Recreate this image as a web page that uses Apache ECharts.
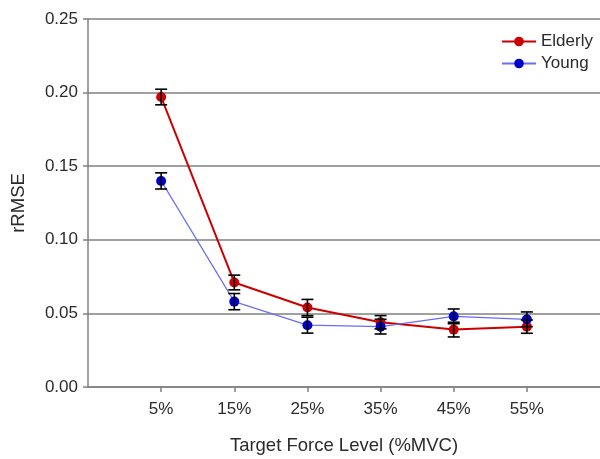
<!DOCTYPE html>
<html>
<head>
<meta charset="utf-8">
<script src="https://cdn.jsdelivr.net/npm/echarts@6/dist/echarts.min.js"></script>
<style>html,body{margin:0;padding:0;background:#fff;}#c{width:600px;height:459px;}</style>
</head>
<body>
<div id="c"></div>
<script>
const levels = ['5%', '15%', '25%', '35%', '45%', '55%'];
const elderly = [0.197, 0.071, 0.054, 0.044, 0.039, 0.041];
const elderlyErr = [0.0053, 0.005, 0.0055, 0.0045, 0.005, 0.0045];
const young = [0.140, 0.058, 0.042, 0.041, 0.048, 0.046];
const youngErr = [0.0055, 0.0055, 0.0054, 0.005, 0.005, 0.005];
const yTicks = { min: 0, max: 0.25, interval: 0.05 };

const xCats = [''].concat(levels, [' ']);
const font = 'Liberation Sans, Arial, sans-serif';
const txt = '#2b2b2b';

function pts(vals) { return vals.map((v, i) => [levels[i], v]); }
function errs(vals, e) { return vals.map((v, i) => [levels[i], v - e[i], v + e[i]]); }

function errRender(params, api) {
  const x = api.value(0);
  const lo = api.coord([x, api.value(1)]);
  const hi = api.coord([x, api.value(2)]);
  const h = 6;
  const st = { stroke: '#000', lineWidth: 1.6 };
  return {
    type: 'group',
    children: [
      { type: 'line', shape: { x1: lo[0], y1: lo[1], x2: hi[0], y2: hi[1] }, style: st },
      { type: 'line', shape: { x1: lo[0] - h, y1: lo[1], x2: lo[0] + h, y2: lo[1] }, style: st },
      { type: 'line', shape: { x1: hi[0] - h, y1: hi[1], x2: hi[0] + h, y2: hi[1] }, style: st }
    ]
  };
}

const chart = echarts.init(document.getElementById('c'));
chart.setOption({
  animation: false,
  backgroundColor: '#fff',
  textStyle: { fontFamily: font },
  grid: { left: 88, right: 0, top: 19, bottom: 72, containLabel: false, outerBoundsMode: 'none' },
  legend: {
    orient: 'vertical', left: 496, top: 28, itemWidth: 34, itemHeight: 12, itemGap: 5,
    textStyle: { fontFamily: font, fontSize: 17, color: txt },
    data: ['Elderly', 'Young']
  },
  xAxis: {
    type: 'category', data: xCats, boundaryGap: false,
    name: 'Target Force Level (%MVC)', nameLocation: 'middle', nameGap: 49,
    nameTextStyle: { fontFamily: font, fontSize: 18.5, color: txt },
    axisLine: { lineStyle: { color: '#808080', width: 1.5 } },
    axisTick: { length: 5, interval: (i) => i > 0 && i < xCats.length - 1, lineStyle: { color: '#808080', width: 1.5 } },
    axisLabel: { fontFamily: font, fontSize: 17, color: txt, margin: 14, interval: 0 },
    splitLine: { show: false }
  },
  yAxis: {
    type: 'value', min: yTicks.min, max: yTicks.max, interval: yTicks.interval,
    name: 'rRMSE', nameLocation: 'middle', nameGap: 60, nameRotate: 90,
    nameTextStyle: { fontFamily: font, fontSize: 18.5, color: txt },
    axisLine: { show: true, lineStyle: { color: '#808080', width: 1.5 } },
    axisTick: { show: true, length: 5, lineStyle: { color: '#808080', width: 1.5 } },
    axisLabel: { fontFamily: font, fontSize: 17, color: txt, margin: 10, formatter: (v) => v.toFixed(2) },
    splitLine: { show: true, lineStyle: { color: '#808080', width: 1.5 } }
  },
  series: [
    {
      name: 'Elderly', type: 'line', data: pts(elderly), symbol: 'circle', symbolSize: 10,
      lineStyle: { color: '#cc0000', width: 2 }, itemStyle: { color: '#cc0000' }, z: 3
    },
    {
      name: 'Young', type: 'line', data: pts(young), symbol: 'circle', symbolSize: 10,
      lineStyle: { color: '#6b6bf5', width: 1.2 }, itemStyle: { color: '#0000cc' }, z: 4
    },
    { name: 'ElderlyErr', type: 'custom', data: errs(elderly, elderlyErr), renderItem: errRender, z: 5 },
    { name: 'YoungErr', type: 'custom', data: errs(young, youngErr), renderItem: errRender, z: 5 }
  ]
});
</script>
</body>
</html>
